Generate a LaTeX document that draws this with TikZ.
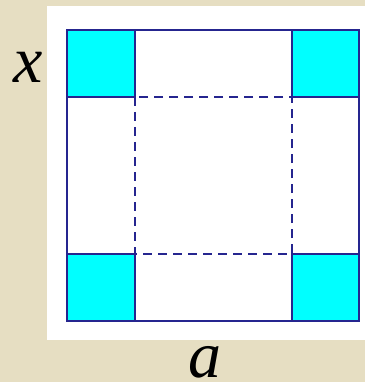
\documentclass[tikz,border=0pt]{standalone}
\usepackage{fontspec}
\setmainfont{Liberation Serif}
\usepackage{xcolor}
\usepackage{tikz}
\definecolor{parchment}{HTML}{E6DEC2}
\definecolor{edgeblue}{HTML}{25258F}
\definecolor{cutcyan}{HTML}{00FFFF}
\tikzset{
  sheet/.style  ={fill=white,draw=none},
  outline/.style={draw=edgeblue,line width=2pt},
  cutout/.style ={draw=edgeblue,line width=2pt,fill=cutcyan},
  fold/.style   ={draw=edgeblue,line width=2pt,dash pattern=on 9pt off 6pt},
  lbl/.style    ={inner sep=0pt,font=\fontsize{66}{66}\selectfont\itshape}
}

\begin{document}
\begin{tikzpicture}[x=1pt,y=-1pt]
    % page and backdrop
    \fill[parchment] (0,0) rectangle (365,382);
    \useasboundingbox (0,0) rectangle (365,382);
    \fill[sheet] (47,6) rectangle (365,340);
    % outer square
    \draw[outline] (67,30) rectangle (359,321);
    % corner cut-outs
    \draw[cutout] (67,30) rectangle (135,97);
    \draw[cutout] (292,30) rectangle (359,97);
    \draw[cutout] (67,254) rectangle (135,321);
    \draw[cutout] (292,254) rectangle (359,321);
    % side edges between the corners
    \draw[outline] (135,97) -- (67,97) (292,97) -- (359,97)
                   (135,254) -- (67,254) (292,254) -- (359,254);
    % fold lines
    \draw[fold] (135,97) rectangle (292,254);
    % labels
    \node[lbl,anchor=base] (side) at (28,83) {x};
    \node[lbl,anchor=base] (width) at (205,377) {a};
  \end{tikzpicture}
\end{document}
